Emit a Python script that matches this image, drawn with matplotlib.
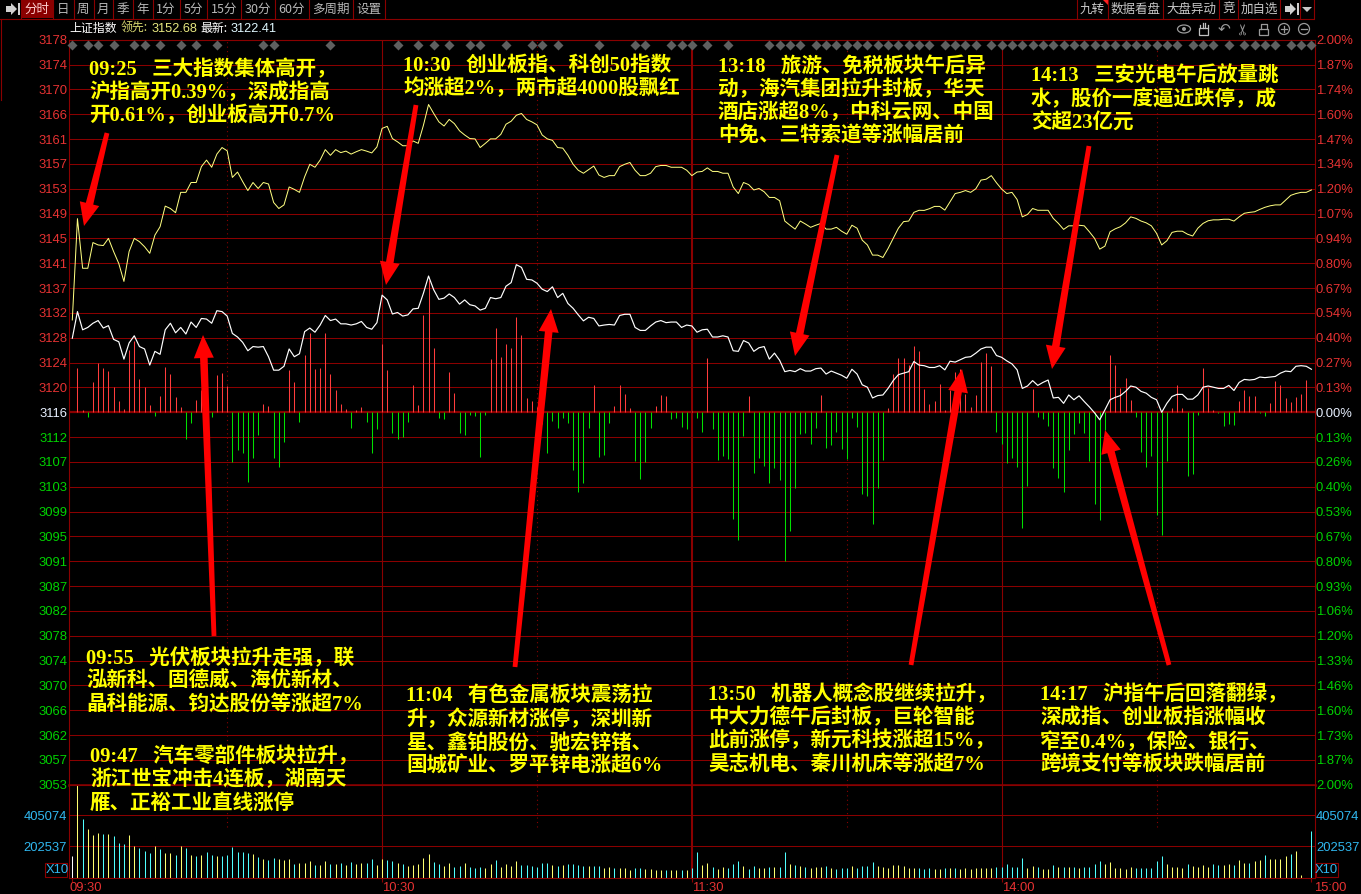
import numpy as np
import matplotlib
matplotlib.use('Agg')
import matplotlib.pyplot as plt
from matplotlib.patches import Polygon, Rectangle, Circle, Ellipse
from matplotlib.transforms import ScaledTranslation

plt.rcParams['font.family'] = ['Liberation Sans', 'Noto Sans CJK SC', 'DejaVu Sans']

W, H = 1361, 894
CJK = ['Noto Sans CJK SC', 'DejaVu Sans']
NOTE_FONT = ['Liberation Serif', 'Noto Sans CJK SC', 'DejaVu Sans']
GRID = '#8a0000'
RED = '#e63232'
GREEN = '#00d200'
CYAN = '#30b8f0'

# data: one point per trading minute, 09:30 to 15:00
base_price = 3116.3
pct_span = 2.0
white_line = [
    3128.7, 3133.15, 3130.1, 3130.5, 3131.2, 3131.65, 3130.4, 3130.8, 3128.5, 3128.1,
    3125.2, 3127.9, 3129.1, 3127.3, 3126.9, 3124.2, 3126.5, 3126.0, 3130.1, 3131.2,
    3129.6, 3130.5, 3129.4, 3131.4, 3130.5, 3132.0, 3131.9, 3131.2, 3133.3, 3133.15,
    3132.4, 3129.5, 3128.9, 3128.0, 3126.6, 3127.3, 3127.2, 3127.3, 3125.6, 3123.35,
    3123.35, 3124.0, 3126.9, 3125.6, 3126.1, 3129.8, 3130.4, 3129.7, 3130.9, 3132.5,
    3131.65, 3131.9, 3131.1, 3131.1, 3130.9, 3131.1, 3131.5, 3130.5, 3130.2, 3131.3,
    3135.9, 3135.1, 3132.75, 3133.0, 3132.4, 3132.6, 3133.6, 3133.7, 3136.2, 3139.1,
    3136.8, 3135.2, 3135.4, 3136.1, 3135.5, 3134.4, 3135.1, 3134.3, 3134.1, 3133.4,
    3133.7, 3135.5, 3135.3, 3135.5, 3137.4, 3138.0, 3141.0, 3140.55, 3138.55, 3138.45,
    3137.9, 3136.9, 3136.5, 3137.3, 3135.5, 3136.2, 3134.5,
    3133.7, 3132.6, 3131.6, 3132.2, 3132.0, 3130.75, 3130.9, 3131.0, 3130.9, 3132.5,
    3132.7, 3132.7, 3130.5, 3130.0, 3130.0, 3130.75, 3131.4, 3131.65, 3131.3, 3131.4,
    3131.4, 3130.5, 3130.9, 3130.75, 3129.7, 3130.1, 3130.2, 3128.9, 3128.9, 3129.1,
    3128.9, 3126.6, 3126.5, 3128.3, 3127.9, 3126.5, 3127.1, 3127.3, 3125.2, 3126.2,
    3125.0, 3123.1, 3123.3, 3123.1, 3123.6, 3123.2, 3123.2, 3123.6, 3123.7, 3122.7,
    3123.2, 3122.85, 3122.5, 3122.0, 3123.5, 3122.7, 3120.9, 3120.5, 3118.7, 3119.1,
    3119.2, 3120.3, 3121.6, 3122.6, 3122.85, 3123.1, 3124.8, 3124.2,
    3124.1, 3123.8, 3123.8, 3124.1, 3123.4, 3124.85, 3124.7, 3125.1, 3125.5, 3125.6,
    3126.2, 3126.9, 3127.2, 3127.2, 3125.8, 3125.5, 3124.9, 3124.4, 3123.4, 3120.3,
    3120.7, 3121.6, 3120.8, 3121.3, 3121.7, 3118.7, 3118.8, 3117.8, 3119.2, 3118.4,
    3119.06, 3118.1, 3117.2, 3116.2, 3115.05, 3116.7, 3118.4, 3118.8, 3119.1, 3119.8,
    3120.7, 3120.5, 3119.8, 3119.5, 3118.8, 3118.4, 3116.3, 3117.8, 3118.95, 3119.3,
    3119.3, 3118.5, 3118.5, 3119.2, 3120.5, 3120.7, 3120.5, 3120.3, 3120.3, 3120.8,
    3119.95, 3121.3, 3121.8, 3121.7, 3121.8, 3122.2, 3122.1, 3122.2, 3122.3, 3122.85,
    3123.2, 3123.1, 3124.0, 3124.1, 3124.0, 3123.5]
yellow_line = [
    3131.75, 3148.7, 3140.4, 3140.4, 3144.7, 3144.3, 3144.2, 3145.4, 3143.2, 3141.2,
    3138.2, 3143.2, 3145.4, 3144.85, 3144.0, 3142.9, 3145.95, 3147.35, 3150.8, 3150.4,
    3149.7, 3153.1, 3153.1, 3154.75, 3154.75, 3157.4, 3158.5, 3157.3, 3159.5, 3160.6,
    3160.05, 3155.6, 3156.5, 3154.9, 3153.4, 3154.75, 3153.75, 3154.75, 3154.5, 3151.4,
    3150.4, 3151.0, 3154.0, 3153.6, 3153.1, 3155.7, 3157.8, 3157.3, 3158.5, 3160.25,
    3159.3, 3160.25, 3159.75, 3160.0, 3159.5, 3159.9, 3160.25, 3160.0, 3159.7, 3160.7,
    3163.8, 3164.15, 3162.1, 3161.55, 3160.9, 3160.9, 3161.7, 3161.3, 3164.3, 3167.8,
    3166.3, 3164.9, 3164.2, 3165.3, 3164.6, 3163.4,
    3162.7, 3162.1, 3162.05, 3160.6, 3161.3, 3162.05, 3162.05, 3162.8, 3164.5, 3165.0,
    3166.0, 3166.3, 3165.3, 3164.9, 3164.4, 3162.7, 3162.05, 3161.8, 3160.6, 3160.5,
    3159.3, 3157.8, 3156.8, 3156.3, 3156.9, 3157.5, 3156.0, 3155.6, 3155.9, 3155.9,
    3157.4, 3157.8, 3158.1, 3156.8, 3155.9, 3155.9, 3156.3, 3157.4, 3157.6, 3157.6,
    3157.3, 3157.3, 3157.3, 3156.8, 3155.9, 3156.5, 3156.6, 3157.2, 3156.6, 3156.6,
    3156.3, 3156.3, 3154.0, 3152.9, 3154.75, 3154.4, 3153.5, 3153.75, 3153.2, 3152.25,
    3152.25, 3151.7, 3148.3, 3147.6, 3146.95, 3148.3, 3147.8, 3147.25, 3147.6, 3147.9,
    3146.95, 3146.95, 3147.25, 3146.6, 3146.1, 3147.6, 3147.1, 3145.1, 3144.3, 3142.6,
    3142.6, 3142.2, 3143.7, 3145.4, 3147.1, 3148.2, 3148.3, 3149.75, 3150.1,
    3150.08, 3150.36, 3150.75, 3150.75, 3150.13, 3151.5, 3152.9, 3153.1, 3153.4, 3153.1,
    3153.7, 3155.15, 3155.3, 3155.9, 3154.7, 3153.65, 3152.9, 3153.1, 3151.9, 3149.0,
    3149.4, 3150.4, 3150.1, 3150.1, 3150.1, 3148.75, 3147.9, 3146.9, 3147.5, 3147.5,
    3147.6, 3147.5, 3146.5, 3145.4, 3143.6, 3144.1, 3146.5, 3147.0,
    3147.35, 3148.0, 3149.0, 3148.75, 3148.3, 3148.0, 3147.5, 3146.25, 3144.3, 3145.0,
    3146.4, 3146.6, 3146.6, 3146.1, 3145.8, 3147.1, 3147.9, 3148.35, 3148.5, 3148.5,
    3148.6, 3148.6, 3148.3, 3149.0, 3149.6, 3149.75, 3149.85, 3150.25, 3150.6, 3150.85,
    3151.0, 3151.0, 3151.8, 3152.6, 3152.9, 3153.1, 3153.1, 3153.5]
# red/green strength bars, 17.955 units per index point
bar_strength = [
    0, 132, 7, -13, 91, 147, 132, 124, 75, 33,
    9, 187, 214, 99, 75, 21, -10, 48, 135, 114,
    45, 15, -79, -31, 36, 67, 30, -13, 112, 117,
    79, -148, -113, -121, -208, -136, -68, 24, 19, -136,
    -163, -88, 127, 91, -28, 172, 237, 130, 133, 237,
    115, 67, 25, 10, -48, 7, 16, -28, -121, -49,
    205, 127, -61, -81, -73, -28, 82, 22, 292, 397,
    192, -18, -21, 122, 59, -63, -68, -8, -10, -133,
    -8, 160, 252, 166, 205, 193, 285, 232, 42, 34,
    17, -35, -121, -25, -47, -16, -32, -173, -238, -211,
    -47, 82, -133, -128, -32, 19, 82, 55, 13, -146,
    -200, -148, -47, 19, 52, 49, -20, -16, -44, -50,
    5, -17, -59, 163, -50, -143, -131, -140, -320, -383,
    -71, 49, -182, -137, -160, -212, -167, -203, -446, -356,
    -227, -65, -62, -95, -47, 52, -107, -98, -59, -110,
    -141, -17, -44, -245, -251, -335, -227, -143, 13, 115,
    163, 163, 142, 199, 184, 70, 25, 34, 85, 7,
    67, 121, 130, 55, 16, 52, 151, 178, 139, -59,
    -95, -152, -137, -164, -347, -221, 70, -14, -20, -41,
    -167, -197, -239, -113, -65, -32, -62, -146, -275, -323,
    -53, 172, 142, 73, 103, 37, -14, -119, -164, -131,
    -308, -368, -146, 13, 82, 13, -191, -185, -8, 133,
    73, 7, -2, -41, -35, -38, 34, 67, 49, 49,
    -3, -11, 28, 94, 82, 43, 31, 46, 55, 97, 0]
# volume readings, 2190 shares(x10) per unit
volume_read = [
    63, 276, 174, 144, 126, 132, 129, 129, 123, 102,
    99, 126, 93, 87, 78, 72, 93, 84, 72, 72,
    66, 93, 87, 66, 63, 66, 75, 66, 63, 63,
    66, 90, 75, 75, 72, 69, 60, 54, 51, 57,
    54, 51, 54, 39, 42, 42, 48, 36, 36, 48,
    39, 39, 42, 36, 45, 39, 42, 42, 54, 36,
    54, 51, 48, 42, 39, 33, 36, 39, 57, 69,
    45, 39,
    33, 42, 30, 33, 42, 30, 27, 30, 27, 39,
    51, 30, 39, 33, 48, 36, 36, 33, 30, 42,
    42, 36, 33, 36, 39, 39, 36, 33, 33, 33,
    33, 27, 30, 27, 27, 27, 21, 27, 27, 24,
    24, 21, 21, 21, 21, 21, 21, 21, 27, 75,
    36, 42, 30, 24, 30, 27, 39, 48, 33, 24,
    33, 27, 27, 30, 30, 30, 75, 39, 36, 33,
    30, 27, 30, 30, 33, 27, 24, 27, 27, 33,
    27, 33, 33, 45, 33, 30, 27, 36, 36,
    33, 27, 27, 27, 24, 27, 24, 24, 27, 27,
    27, 24, 27, 24, 27, 27, 27, 27, 30, 30,
    39, 30, 30, 57, 27, 33, 30, 24, 24, 36,
    30, 30, 30, 30, 27, 30, 30, 39, 48, 39,
    45, 27, 27, 24, 30, 27, 27, 27, 27, 48,
    63, 39, 30, 30, 27, 39, 33, 30, 36, 30,
    39, 36, 36, 39, 36, 51, 42, 42, 48, 51,
    66, 54, 54, 54, 63, 69, 78, 6, 0, 138]
# minutes with a signal marker along the top edge
signal_minutes = [
    0, 3, 5, 8, 12, 14, 17, 21, 24, 28, 37, 39, 50, 63, 67, 70, 73, 77, 79, 84, 89, 91,
    94, 102, 109, 111, 116, 118, 120, 123, 127, 135, 137, 139, 141, 144, 146, 148, 150,
    152, 154, 156, 158, 160, 162, 164, 166, 169, 171, 173, 175, 178, 180, 182, 184, 186,
    188, 190, 192, 194, 196, 198, 200, 202, 204, 206, 208, 210, 212, 214, 217, 219, 221,
    224, 227, 229, 231, 233, 236, 238, 240]
price_labels = ['3178', '3174', '3170', '3166', '3161', '3157', '3153', '3149', '3145', '3141',
                '3137', '3132', '3128', '3124', '3120', '3116', '3112', '3107', '3103', '3099',
                '3095', '3091', '3087', '3082', '3078', '3074', '3070', '3066', '3062', '3057', '3053']
pct_labels = ['2.00%', '1.87%', '1.74%', '1.60%', '1.47%', '1.34%', '1.20%', '1.07%', '0.94%', '0.80%',
              '0.67%', '0.54%', '0.40%', '0.27%', '0.13%', '0.00%', '0.13%', '0.26%', '0.40%', '0.53%',
              '0.67%', '0.80%', '0.93%', '1.06%', '1.20%', '1.33%', '1.46%', '1.60%', '1.73%', '1.87%', '2.00%']
volume_ticks = [202537, 405074]
time_ticks = [0, 60, 120, 180, 240]
time_labels = ['09:30', '10:30', '11:30', '14:00', '15:00']
half_hour_ticks = [30, 90, 150, 210]

notes = [
    (89, 70, ['09:25   三大指数集体高开，', '沪指高开0.39%，深成指高', '开0.61%，创业板高开0.7%']),
    (403, 66, ['10:30   创业板指、科创50指数', '均涨超2%，两市超4000股飘红']),
    (718, 67, ['13:18   旅游、免税板块午后异', '动，海汽集团拉升封板，华天', '酒店涨超8%，中科云网、中国', '中免、三特索道等涨幅居前']),
    (1031, 77, ['14:13   三安光电午后放量跳', '水，股价一度逼近跌停，成', '交超23亿元']),
    (86, 659, ['09:55   光伏板块拉升走强，联', '泓新科、固德威、海优新材、', '晶科能源、钧达股份等涨超7%']),
    (90, 757, ['09:47   汽车零部件板块拉升，', '浙江世宝冲击4连板，湖南天', '雁、正裕工业直线涨停']),
    (406, 697, ['11:04   有色金属板块震荡拉', '升，众源新材涨停，深圳新', '星、鑫铂股份、驰宏锌锗、', '国城矿业、罗平锌电涨超6%']),
    (708, 695, ['13:50   机器人概念股继续拉升，', '中大力德午后封板，巨轮智能', '此前涨停，新元科技涨超15%，', '昊志机电、秦川机床等涨超7%']),
    (1040, 695, ['14:17   沪指午后回落翻绿，', '深成指、创业板指涨幅收', '窄至0.4%，保险、银行、', '跨境支付等板块跌幅居前']),
]
arrows = [
    (107, 133, 84, 226), (416, 105, 386, 285), (837, 155, 795, 356), (1089, 146, 1052, 369),
    (214, 636, 203, 335), (515, 667, 551, 309), (911, 665, 962, 369), (1169, 665, 1105, 430),
]
left_tabs = [('分时', 37), ('日', 63), ('周', 83), ('月', 103), ('季', 123), ('年', 143), ('1分', 166),
             ('5分', 193), ('15分', 224), ('30分', 258), ('60分', 292), ('多周期', 331), ('设置', 369)]
left_seps = [21, 53.5, 74, 94, 113.5, 133.5, 153.5, 180.5, 207.5, 241.5, 275.5, 309.5, 353.5, 385.5]
right_tabs = [('九转', 1092), ('数据看盘', 1135.5), ('大盘异动', 1191), ('竞', 1228.5), ('加自选', 1259)]
right_seps = [1077.5, 1108.5, 1163.5, 1219.5, 1238.5, 1280.5, 1300.5, 1314.5]


def pixel_axes(fig, x0, y0, x1, y1):
    return fig.add_axes([x0 / W, 1 - y1 / H, (x1 - x0) / W, (y1 - y0) / H], facecolor='black')


def draw_arrow(ax, x0, y0, x1, y1):
    d = np.array([x1 - x0, y1 - y0], float)
    length = np.hypot(*d)
    d /= length
    n = np.array([-d[1], d[0]])
    tail, tip = np.array([x0, y0]), np.array([x1, y1])
    neck = tip - d * 23
    pts = [tail + n * 2.4, neck + n * 3.8, neck + n * 10, tip, neck - n * 10, neck - n * 3.8, tail - n * 2.4]
    ax.add_patch(Polygon(pts, closed=True, facecolor='#ff0000', edgecolor='none', zorder=6))


fig = plt.figure(figsize=(W / 100, H / 100), dpi=100, facecolor='black')

# price panel
x = np.arange(len(white_line))
white = np.array(white_line)
yellow = np.array(yellow_line)
bars = np.array(bar_strength) / 17.955
span = base_price * pct_span / 100
levels = base_price + span * np.arange(15, -16, -1) / 15

ax = pixel_axes(fig, 68.5, 39.8, 1314.5, 784.8)
xlim = ((68.5 - 72.3) / 5.163, (1314.5 - 72.3) / 5.163)
ax.set_xlim(xlim)
ax.set_ylim(base_price - span, base_price + span)
ax.set_yticks(levels)
ax.set_yticklabels(price_labels, fontsize=9.4)
ax.set_xticks([])
ax.tick_params(axis='y', length=0, pad=1)
for lab, level in zip(ax.get_yticklabels(), levels):
    lab.set_color(RED if level > base_price + 1 else GREEN if level < base_price - 1 else '#e8f0ff')
for level in levels:
    ax.axhline(level, color=GRID, lw=0.75, zorder=1)
ax.axhline(base_price, color=GRID, lw=1.6, zorder=1)
ax.axhline(base_price - span, color=GRID, lw=1.8, zorder=1, clip_on=False)
for t in time_ticks[1:-1]:
    ax.axvline(t, color=GRID, lw=1.5 if t == 120 else 0.8, zorder=1)
for t in half_hour_ticks:
    ax.axvline(t, color=GRID, lw=0.8, ls=(0, (1, 3)), zorder=1)
for s in ax.spines.values():
    s.set_color(GRID)
    s.set_linewidth(0.8)

ax.vlines(x[bars > 0], base_price, base_price + bars[bars > 0], color='#ff3c3c', lw=0.75, zorder=2, snap=True)
ax.vlines(x[bars < 0], base_price, base_price + bars[bars < 0], color='#00e000', lw=0.75, zorder=2, snap=True)
ax.plot(x, yellow, color='#ffff80', lw=0.72, zorder=3)
ax.plot(x, white, color='#ffffff', lw=0.85, zorder=3)
ax.scatter(signal_minutes, [base_price + span * 0.985] * len(signal_minutes), marker='D', s=26,
           color='#5f5f5f', zorder=3, clip_on=False, linewidths=0)

# percent labels on the right
ax_r = ax.twinx()
ax_r.set_ylim(ax.get_ylim())
ax_r.set_yticks(levels)
ax_r.set_yticklabels(pct_labels, fontsize=9.4)
ax_r.tick_params(axis='y', length=0, pad=1)
for lab, level in zip(ax_r.get_yticklabels(), levels):
    lab.set_color(RED if level > base_price + 1 else GREEN if level < base_price - 1 else '#e8f0ff')
for s in ax_r.spines.values():
    s.set_visible(False)

# volume panel
vol = np.array(volume_read) * 2190
up = np.r_[True, np.diff(white) >= 0]
up[0] = False
ax_v = pixel_axes(fig, 68.5, 784.8, 1314.5, 877.5)
ax_v.set_xlim(xlim)
ax_v.set_ylim(0, 604440)
ax_v.vlines(x[up], 0, vol[up], color='#ffff70', lw=0.75, zorder=2, snap=True)
down = ~up
down[0] = False
ax_v.vlines(x[down], 0, vol[down], color='#50ffff', lw=0.75, zorder=2, snap=True)
ax_v.vlines(x[:1], 0, vol[:1], color='#ffffff', lw=0.75, zorder=2, snap=True)
ax_v.set_yticks(volume_ticks)
ax_v.set_yticklabels([str(v) for v in volume_ticks], fontsize=9.4, color=CYAN)
ax_v.tick_params(axis='y', length=0, pad=1)
ax_v.set_xticks(time_ticks)
ax_v.set_xticklabels(time_labels, fontsize=9.4, color=RED, ha='left')
ax_v.tick_params(axis='x', length=3, color=GRID, width=0.8, pad=0.5)
xlabs = ax_v.get_xticklabels()
xlabs[0].set_transform(xlabs[0].get_transform() + ScaledTranslation(-3 / 100, 0, fig.dpi_scale_trans))
xlabs[-1].set_transform(xlabs[-1].get_transform() + ScaledTranslation(3 / 100, 0, fig.dpi_scale_trans))
for v in volume_ticks:
    ax_v.axhline(v, color=GRID, lw=0.75, zorder=1)
for t in time_ticks[1:-1]:
    ax_v.axvline(t, color=GRID, lw=1.5 if t == 120 else 0.8, zorder=1)
for t in half_hour_ticks:
    ax_v.axvline(t, color=GRID, lw=0.8, ls=(0, (1, 3)), ymin=0.55, zorder=1)
for s in ax_v.spines.values():
    s.set_color(GRID)
    s.set_linewidth(0.8)
ax_vr = ax_v.twinx()
ax_vr.set_ylim(ax_v.get_ylim())
ax_vr.set_yticks(volume_ticks)
ax_vr.set_yticklabels([str(v) for v in volume_ticks], fontsize=9.4, color=CYAN)
ax_vr.tick_params(axis='y', length=0, pad=1)
for s in ax_vr.spines.values():
    s.set_visible(False)

# overlay in screen pixels for the toolbar, notes and arrows
ov = fig.add_axes([0, 0, 1, 1], facecolor='none')
ov.set_xlim(0, W)
ov.set_ylim(H, 0)
ov.axis('off')

ov.plot([0, W - 47], [18.5, 18.5], color=GRID, lw=0.8)
ov.plot([1.5, 1.5], [18.5, 100], color=GRID, lw=0.8)
ov.add_patch(Rectangle((21, 0), 32.5, 18, facecolor='#8a0000', edgecolor='none'))
for sx in left_seps + right_seps:
    ov.plot([sx, sx], [0, 18], color=GRID, lw=0.8)
for i, (label, cx) in enumerate(left_tabs):
    ov.text(cx, 9, label, color='#ffd0d0' if i == 0 else '#b8b8b8', fontsize=9, ha='center', va='center', family=CJK)
for label, cx in right_tabs:
    ov.text(cx, 9, label, color='#c8c8c8', fontsize=9, ha='center', va='center', family=CJK)
ov.add_patch(Polygon([(1103, 0), (1108, 0), (1108, 5)], facecolor='#ff2020', edgecolor='none'))
ov.add_patch(Polygon([(1302, 7), (1312, 7), (1307, 12)], facecolor='#c8c8c8', edgecolor='none'))
# play-to-end icons
for ix in (6, 1285):
    ov.add_patch(Polygon([(ix, 6), (ix + 5, 6), (ix + 5, 3), (ix + 11, 9), (ix + 5, 15), (ix + 5, 12), (ix, 12)],
                         facecolor='#d0d0d0', edgecolor='none'))
    ov.add_patch(Rectangle((ix + 12, 3), 2, 12, facecolor='#d0d0d0', edgecolor='none'))

ov.text(69, 28.5, '上证指数', color='white', fontsize=8.6, va='center', family=CJK)
ov.text(121, 28.5, '领先:', color='#d8d870', fontsize=8.6, va='center', family=CJK)
ov.text(152, 28.5, '3152.68', color='#e8e880', fontsize=9.2, va='center')
ov.text(200, 28.5, '最新:', color='white', fontsize=8.6, va='center', family=CJK)
ov.text(231, 28.5, '3122.41', color='#e0f8ff', fontsize=9.2, va='center')

# chart tool icons
icon = '#9a9a9a'
ov.add_patch(Ellipse((1184, 29), 13, 8, fill=False, edgecolor=icon, lw=0.9))
ov.add_patch(Circle((1184, 29), 2, facecolor=icon, edgecolor='none'))
# open hand
ov.add_patch(Rectangle((1199.5, 28), 9, 7, fill=False, edgecolor='#c0c0c0', lw=0.9))
for fx, ftop in ((1200.5, 25), (1203, 23), (1205.5, 23), (1208, 25)):
    ov.plot([fx, fx], [ftop, 28], color='#c0c0c0', lw=0.9)
ov.text(1224, 29, '\u21b6', color=icon, fontsize=11, ha='center', va='center', family='DejaVu Sans')
ov.text(1244, 29, '\u2702', color=icon, fontsize=11, ha='center', va='center', family='DejaVu Sans', rotation=90)
ov.add_patch(Rectangle((1259.5, 29), 9, 6, fill=False, edgecolor=icon, lw=0.9))
ov.plot([1261, 1261, 1267, 1267], [29, 24, 24, 29], color=icon, lw=0.9)
for cx, sym in ((1284, '+'), (1304, '-')):
    ov.add_patch(Circle((cx, 29), 5.5, fill=False, edgecolor=icon, lw=0.9))
    ov.plot([cx - 3, cx + 3], [29, 29], color=icon, lw=0.9)
    if sym == '+':
        ov.plot([cx, cx], [26, 32], color=icon, lw=0.9)

# X10 boxes
for bx, tx in ((45.5, 57), (1316, 1326.5)):
    ov.add_patch(Rectangle((bx, 863), 22, 14, fill=False, edgecolor=GRID, lw=0.8))
    ov.text(tx, 870.3, 'X10', color=CYAN, fontsize=9.4, ha='center', va='center')

for x0, y0, x1, y1 in arrows:
    draw_arrow(ov, x0, y0, x1, y1)

for nx, ny, lines in notes:
    for j, line in enumerate(lines):
        ov.text(nx, ny + j * 23.2, line, color='#ffff00', fontsize=14.8, fontweight='bold',
                va='center', family=NOTE_FONT, zorder=7)

fig.savefig('out.png', dpi=100, facecolor='black')
